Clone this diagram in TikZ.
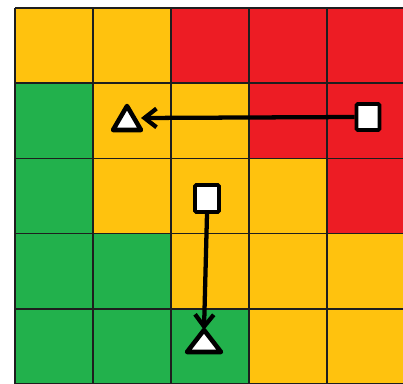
\documentclass[tikz,border=0pt]{standalone}
\usetikzlibrary{arrows.meta}
\definecolor{cy}{HTML}{FFC20E}
\definecolor{cr}{HTML}{ED1C24}
\definecolor{cg}{HTML}{22B14C}
\definecolor{gridc}{HTML}{1E1E1E}
\begin{document}
\begin{tikzpicture}[x=0.75pt,y=-0.75pt,
  gridline/.style={gridc,line width=1.1pt},
  sqbox/.style={draw=black,fill=white,line width=2.8pt,rounded corners=1pt,inner sep=0pt},
  trianchor/.style={inner sep=0pt,outer sep=0pt},
  tri/.style={draw=black,fill=white,line width=3.4pt,line join=round},
  move/.style={black,line width=3.2pt,-{Straight Barb[length=9pt,width=14pt,line width=3.2pt]}}]
\useasboundingbox (0,0) rectangle (403,384);
\begin{scope}
\clip (0,0) rectangle (403,384);
\foreach [count=\j] \row in {{cy,cy,cr,cr,cr},{cg,cy,cy,cr,cr},{cg,cy,cy,cy,cr},{cg,cg,cy,cy,cy},{cg,cg,cg,cy,cy}}{
  \foreach [count=\i] \c in \row {
    \fill[\c] ({15+78*(\i-1)},{8+75.2*(\j-1)}) rectangle ++(78,75.2);
  }
}
\foreach \x in {15,93,171,249,327,405}{
  \draw[gridline] (\x,8) -- (\x,384);
}
\foreach \y in {8,83.2,158.4,233.6,308.8,384}{
  \draw[gridline] (15,\y) -- (405,\y);
}
\end{scope}
% start squares
\node[sqbox,minimum width=17.25pt,minimum height=19.5pt] (s1) at (368,117) {};
\node[sqbox,minimum width=18pt,minimum height=20.25pt] (s2) at (207,198.5) {};
% triangles
\node[trianchor,minimum width=21pt,minimum height=18pt] (t1) at (127,118) {};
\draw[tri] (t1.south west) -- (t1.south east) -- (t1.north) -- cycle;
\node[trianchor,minimum width=25.5pt,minimum height=16.5pt] (t2) at (204,341) {};
\draw[tri] (t2.south west) -- (t2.south east) -- (t2.north) -- cycle;
% moves
\draw[move] (s1.west) -- (t1.east);
\draw[move] (s2.south) -- (t2.north);
\end{tikzpicture}
\end{document}
